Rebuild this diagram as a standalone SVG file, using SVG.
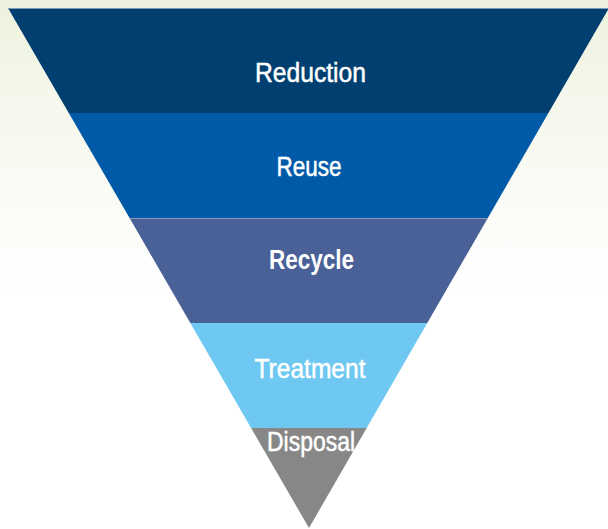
<svg xmlns="http://www.w3.org/2000/svg" width="608" height="529" viewBox="0 0 608 529">
  <defs>
    <linearGradient id="bg" x1="0" y1="0" x2="0" y2="1">
      <stop offset="0" stop-color="#edf2de"/>
      <stop offset="0.25" stop-color="#f7f9f0"/>
      <stop offset="0.55" stop-color="#ffffff"/>
    </linearGradient>
    <clipPath id="tri">
      <polygon points="8,8 609,8 309,528"/>
    </clipPath>
    <style>
      .lbl { font-family: "Liberation Sans", Arial, sans-serif; font-size: 27px; fill: #ffffff; stroke: #ffffff; stroke-width: 0.5; text-anchor: middle; }
      .bold { font-weight: bold; stroke-width: 0; }
      .sep { stroke-width: 1; }
    </style>
  </defs>
  <rect x="0" y="0" width="608" height="529" fill="url(#bg)"/>
  <g clip-path="url(#tri)">
    <g id="reduction">
      <rect x="0" y="8" width="608" height="105" fill="#003f6f"/>
      <line class="sep" x1="0" y1="8.5" x2="608" y2="8.5" stroke="#7d9bb5"/>
      <text class="lbl" x="310.5" y="82" textLength="111" lengthAdjust="spacingAndGlyphs">Reduction</text>
    </g>
    <g id="reuse">
      <rect x="0" y="113" width="608" height="105" fill="#005aa8"/>
      <text class="lbl" x="309" y="176" textLength="65" lengthAdjust="spacingAndGlyphs">Reuse</text>
    </g>
    <g id="recycle">
      <rect x="0" y="218" width="608" height="105" fill="#4a6198"/>
      <line class="sep" x1="0" y1="218.5" x2="608" y2="218.5" stroke="#8a9cc4"/>
      <text class="lbl bold" x="311.5" y="269" textLength="85" lengthAdjust="spacingAndGlyphs">Recycle</text>
    </g>
    <g id="treatment">
      <rect x="0" y="323" width="608" height="105" fill="#6ec8f2"/>
      <text class="lbl" x="310" y="378" textLength="111" lengthAdjust="spacingAndGlyphs">Treatment</text>
    </g>
    <g id="disposal">
      <rect x="0" y="428" width="608" height="101" fill="#878787"/>
    </g>
  </g>
  <text class="lbl" x="311" y="451" textLength="88" lengthAdjust="spacingAndGlyphs">Disposal</text>
</svg>
